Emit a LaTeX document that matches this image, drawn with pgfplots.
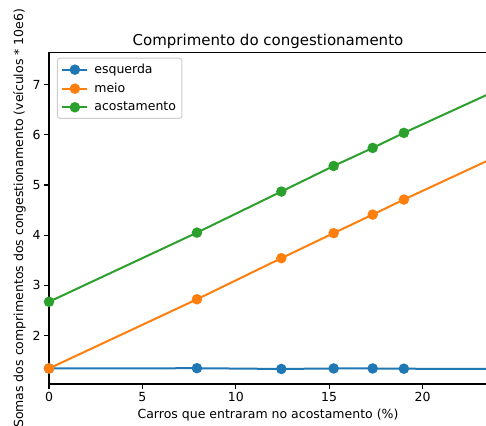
\documentclass[border=0pt]{standalone}
\usepackage{fontspec}
\setmainfont{DejaVu Sans}
\usepackage{pgfplots}
\pgfplotsset{compat=1.18}
\definecolor{tblue}{HTML}{1F77B4}
\definecolor{torange}{HTML}{FF7F0E}
\definecolor{tgreen}{HTML}{2CA02C}
\begin{document}
\begin{tikzpicture}[x=1pt,y=1pt]
\clip (-49,-41) rectangle (437,384);
\begin{axis}[
  scale only axis, width=438pt, height=331.3pt,
  xmin=0, xmax=23.45, ymin=1.03, ymax=7.64,
  xtick={0,5,10,15,20}, ytick={2,3,4,5,6,7},
  tick align=outside, major tick length=4.9pt,
  xtick pos=left, ytick pos=left,
  /pgf/number format/assume math mode=true,
  tick label style={font=\fontsize{12.5}{14}\selectfont},
  label style={font=\fontsize{12.5}{14}\selectfont},
  title style={font=\fontsize{15}{18}\selectfont, yshift=-5pt},
  title={Comprimento do congestionamento},
  xlabel={Carros que entraram no acostamento (\%)},
  ylabel={Somas dos comprimentos dos congestionamento (veículos * 10e6)},
  axis line style={line width=1.1pt},
  every tick/.style={line width=1.1pt, black},
  legend style={at={(0.018,0.985)}, anchor=north west, font=\fontsize{12.5}{14}\selectfont, draw=black!20, rounded corners=3pt, line width=1pt, inner xsep=4pt, inner ysep=4pt, row sep=4pt},
  legend cell align=left,
  legend image code/.code={\draw[#1, mark indices={2}] plot coordinates {(0pt,0pt) (12.5pt,0pt) (25pt,0pt)}; \path (29pt,0pt);},
  every axis plot/.append style={line width=2pt, mark=*, mark size=4.2pt, mark options={solid}, mark indices={1,2,3,4,5,6}},
]
\addplot[color=tblue] coordinates {(0,1.34) (7.92,1.345) (12.44,1.33) (15.24,1.34) (17.33,1.34) (19.0,1.335) (23.45,1.33)};
\addlegendentry{esquerda}
\addplot[color=torange] coordinates {(0,1.34) (7.92,2.72) (12.44,3.54) (15.24,4.04) (17.33,4.41) (19.0,4.71) (23.45,5.48)};
\addlegendentry{meio}
\addplot[color=tgreen] coordinates {(0,2.67) (7.92,4.05) (12.44,4.87) (15.24,5.38) (17.33,5.74) (19.0,6.04) (23.45,6.80)};
\addlegendentry{acostamento}
\end{axis}
\end{tikzpicture}
\end{document}
